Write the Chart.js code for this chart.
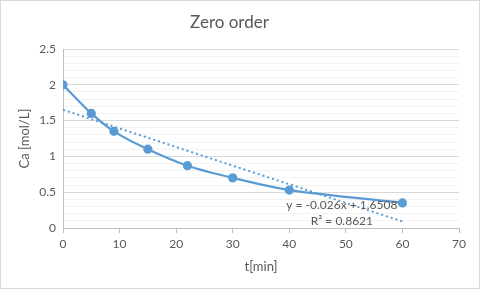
<!DOCTYPE html>
<html>
<head>
<meta charset="utf-8">
<script src="https://cdn.jsdelivr.net/npm/chart.js@4"></script>
<style>
  html, body { margin: 0; padding: 0; background: #fff; }
  #wrap { width: 480px; height: 289px; position: relative; }
</style>
</head>
<body>
<div id="wrap"><canvas id="myChart" width="480" height="289"></canvas></div>
<script>
// measured points
const timeMin = [0, 5, 9, 15, 22, 30, 40, 60];
const concA = [2.0, 1.6, 1.35, 1.1, 0.87, 0.7, 0.53, 0.35];

// linear trendline endpoints (from the Excel label)
const trendX = [0, 60];
const trendY = [1.6508, 0.0908];
const trendLabel = ['y = -0.026x + 1.6508', 'R² = 0.8621'];

const yTicks = ['0', '0.5', '1', '1.5', '2', '2.5'];
const xTicks = ['0', '10', '20', '30', '40', '50', '60', '70'];

const blue = '#5B9BD5';
const grey = '#595959';
const fontFam = 'Lato, "Open Sans", sans-serif';

const ctx = document.getElementById('myChart').getContext('2d');

// border + trendline equation
const extrasPlugin = {
    id: 'extras',
    beforeDraw: (chart) => {
        const c = chart.ctx;
        c.save();
        c.fillStyle = '#fff';
        c.fillRect(0, 0, chart.width, chart.height);
        c.restore();
    },
    afterDraw: (chart) => {
        const c = chart.ctx;
        const xs = chart.scales.x, ys = chart.scales.y;
        c.save();
        c.strokeStyle = '#D9D9D9';
        c.lineWidth = 1;
        c.strokeRect(0.5, 0.5, chart.width - 1, chart.height - 1);
        c.fillStyle = grey;
        c.font = '12px ' + fontFam;
        c.textAlign = 'center';
        c.textBaseline = 'middle';
        c.fillText(trendLabel[0], xs.getPixelForValue(49.3), ys.getPixelForValue(0.32));
        c.fillText(trendLabel[1], xs.getPixelForValue(49.3), ys.getPixelForValue(0.1));
        c.restore();
    }
};

const myChart = new Chart(ctx, {
    type: 'scatter',
    data: {
        datasets: [
            {
                label: 'Ca',
                data: timeMin.map((t, i) => ({x: t, y: concA[i]})),
                showLine: true,
                borderColor: blue,
                backgroundColor: blue,
                borderWidth: 2.25,
                pointRadius: 3.5,
                pointHoverRadius: 3.5,
                tension: 0.25,
                order: 1
            },
            {
                label: 'Linear',
                data: trendX.map((t, i) => ({x: t, y: trendY[i]})),
                showLine: true,
                borderColor: blue,
                borderWidth: 2,
                borderDash: [2, 3],
                pointRadius: 0,
                order: 2
            }
        ]
    },
    plugins: [extrasPlugin],
    options: {
        responsive: false,
        animation: false,
        layout: { padding: { top: 0, right: 21, bottom: 0, left: 0 } },
        plugins: {
            legend: { display: false },
            tooltip: { enabled: false },
            title: {
                display: true,
                text: 'Zero order',
                color: grey,
                font: { family: fontFam, size: 17, weight: 'normal', lineHeight: 1.2 },
                padding: { top: 12.6, bottom: 16 }
            }
        },
        scales: {
            x: {
                type: 'linear',
                min: 0,
                max: 70,
                afterFit: (s) => { s.height = 61; },
                ticks: {
                    stepSize: 10,
                    color: grey,
                    font: { family: fontFam, size: 12 },
                    padding: 4,
                    maxRotation: 0,
                    callback: (v) => xTicks[v / 10]
                },
                grid: {
                    display: true,
                    drawOnChartArea: false,
                    drawTicks: true,
                    tickLength: 5,
                    color: '#BFBFBF'
                },
                border: { color: '#BFBFBF' },
                title: {
                    display: true,
                    text: 't[min]',
                    color: grey,
                    font: { family: fontFam, size: 13 },
                    padding: { top: 4, bottom: 14 }
                }
            },
            y: {
                type: 'linear',
                min: 0,
                max: 2.5,
                afterFit: (s) => { s.width = 63; },
                afterBuildTicks: (s) => {
                    s.ticks = [];
                    for (let i = 0; i <= 25; i++) s.ticks.push({ value: i / 10 });
                },
                ticks: {
                    autoSkip: false,
                    color: grey,
                    font: { family: fontFam, size: 12 },
                    padding: 7,
                    callback: (v) => {
                        const k = Math.round(v * 10);
                        return k % 5 === 0 ? yTicks[k / 5] : '';
                    }
                },
                grid: {
                    drawTicks: false,
                    color: (c) => Math.round(c.tick.value * 10) % 5 === 0 ? '#D9D9D9' : '#F2F2F2'
                },
                border: { color: '#BFBFBF' },
                title: {
                    display: true,
                    text: 'Ca [mol/L]',
                    color: grey,
                    font: { family: fontFam, size: 13 },
                    padding: { top: 17, bottom: 0 }
                }
            }
        }
    }
});
</script>
</body>
</html>
